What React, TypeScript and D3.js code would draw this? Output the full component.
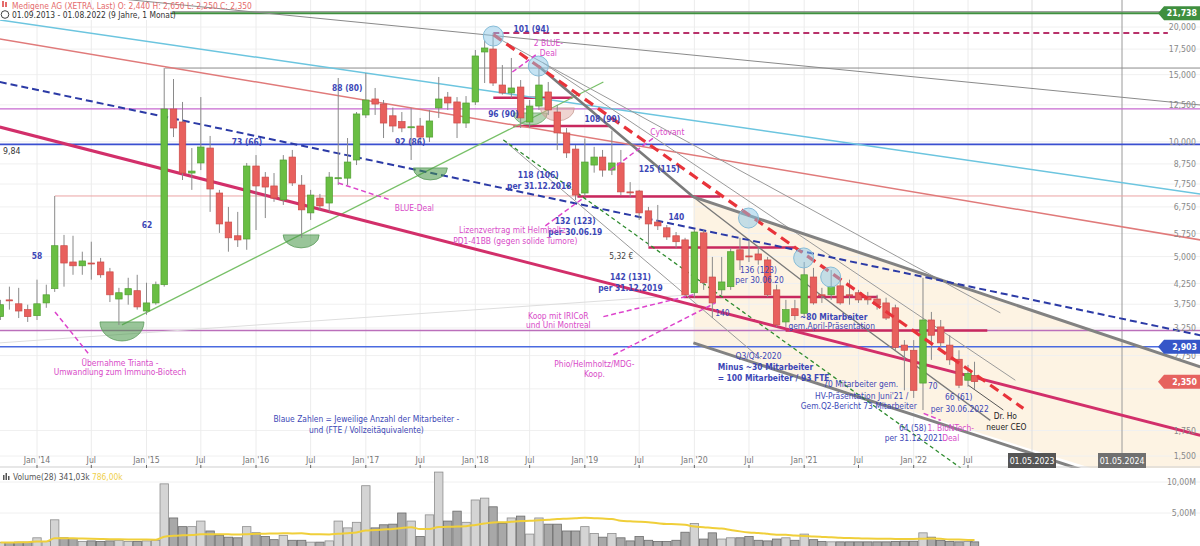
import React from "react";
import * as d3 from "d3";

const W = 1200;
const H = 546;
const FONT = "'DejaVu Sans Condensed','Liberation Sans Narrow','Arial Narrow',sans-serif";
const FS = 8.4;
const AFS = 8.7;

// Monthly OHLC, Sep 2013 .. Aug 2022 (EUR)
const opens = [3.48,3.85,3.76,3.63,3.50,3.78,4.12,5.34,4.84,4.73,4.81,4.84,4.56,3.87,3.97,4.07,3.60,3.78,4.22,12.19,11.27,8.28,8.80,9.63,7.34,6.16,5.67,5.56,8.64,8.08,7.66,7.04,9.12,7.70,6.51,7.12,6.91,8.03,8.03,8.96,11.76,12.95,12.56,11.70,11.30,10.93,11.00,10.29,12.27,13.10,12.72,11.20,12.72,17.20,17.51,14.09,13.43,13.92,11.27,12.41,13.51,11.97,10.55,9.57,7.34,8.69,9.12,8.43,8.80,7.39,7.43,6.59,6.16,5.95,5.67,5.53,4.02,5.77,4.42,4.09,4.17,5.21,5.02,5.08,4.90,4.09,3.37,3.65,3.55,4.42,3.97,3.97,4.19,3.97,4.02,3.92,3.87,3.78,3.67,2.93,2.84,2.33,3.41,3.27,2.93,2.69,2.37,2.44];
const highs = [3.85,4.17,4.14,3.74,4.35,4.22,7.21,5.70,5.67,5.15,5.47,4.96,4.67,4.14,4.40,4.48,4.27,4.30,15.61,14.61,12.72,9.63,13.10,10.36,7.48,6.75,6.55,8.80,9.23,8.33,8.28,9.23,9.52,8.18,7.48,7.30,8.33,14.70,10.23,11.97,15.15,13.84,12.87,12.30,11.97,12.27,11.55,12.12,14.79,13.51,13.10,13.18,17.41,18.50,19.30,15.90,16.59,14.52,12.87,15.80,14.35,12.49,10.87,9.81,10.20,9.70,9.52,10.70,9.52,7.84,7.48,6.75,6.83,6.05,5.80,5.60,5.87,5.87,4.99,4.99,5.27,5.60,5.53,5.27,4.99,4.22,3.85,3.85,4.84,4.67,4.14,4.61,4.35,4.35,4.09,4.04,3.97,3.90,3.74,3.02,3.02,4.40,3.58,3.41,3.11,2.84,2.60,2.65];
const lows = [3.41,3.63,3.45,3.37,3.41,3.67,4.04,4.17,4.48,4.48,4.35,4.40,3.80,3.31,3.74,3.63,3.52,3.74,4.17,10.29,7.94,7.48,8.43,6.55,5.77,5.15,5.30,5.21,5.87,6.31,6.96,6.83,7.66,5.60,6.24,6.63,6.55,7.70,7.70,8.69,11.55,11.76,10.23,10.60,10.60,8.96,9.81,9.99,11.55,12.12,10.23,10.87,12.49,14.26,14.01,13.30,13.03,10.87,10.87,12.12,11.76,9.52,9.07,7.04,7.20,8.30,8.10,8.18,7.25,7.17,6.24,5.32,5.87,5.53,5.27,3.92,3.90,4.09,3.45,3.97,4.09,4.61,4.84,4.76,3.92,3.27,3.27,3.41,3.45,3.74,3.78,3.85,3.74,3.74,3.78,3.74,3.63,3.41,2.84,2.23,2.13,1.98,2.68,2.89,2.60,2.26,2.28,2.25];
const closes = [3.74,3.84,3.60,3.48,3.76,3.97,5.34,4.81,4.73,4.87,4.80,4.48,3.97,4.02,4.12,3.69,3.78,4.22,12.19,10.87,8.28,8.38,9.69,7.52,6.09,5.60,5.53,8.64,7.66,7.61,7.12,8.96,7.80,6.63,7.25,6.79,8.08,8.05,8.85,11.83,12.87,12.56,11.20,11.00,10.87,10.95,10.29,11.34,12.95,12.64,11.20,12.64,16.79,17.62,14.26,13.43,13.84,11.55,12.41,14.09,12.12,10.55,9.35,7.25,8.85,9.12,8.43,8.80,7.39,7.38,6.51,6.09,6.02,5.63,5.47,3.97,5.80,4.27,3.78,4.29,5.15,4.90,5.00,4.90,3.97,3.31,3.63,3.50,4.48,3.78,3.96,4.17,3.78,3.95,3.85,3.85,3.74,3.45,2.89,2.84,2.23,3.41,3.11,2.97,2.68,2.30,2.47,2.35];
// Monthly volume in millions
const volumesM = [0.25,0.25,0.3,0.3,1.0,0.4,3.9,1.0,0.9,0.4,0.5,0.4,0.5,0.6,0.4,0.4,0.5,0.6,9.7,4.2,2.8,2.8,3.7,2.1,1.4,1.1,1.0,2.8,1.8,1.2,0.7,1.4,0.6,0.6,0.3,0.3,0.5,3.7,2.6,3.5,9.4,2.6,3.1,3.2,5.0,3.7,1.2,4.7,11.6,3.7,5.3,3.5,7.1,7.4,6.0,3.3,4.2,4.5,1.6,4.2,3.2,3.2,2.1,2.1,2.8,1.7,1.1,1.7,1.0,0.5,1.2,0.6,0.4,0.4,0.6,1.9,3.3,0.8,1.8,0.8,1.0,1.0,1.2,0.6,0.5,0.8,1.0,0.6,1.6,0.7,0.4,0.35,0.35,0.35,0.35,0.35,0.35,0.35,0.4,0.45,0.45,1.8,1.1,0.6,0.4,0.35,0.4,0.341];

const months = d3.timeMonth.range(new Date(2013, 8, 1), new Date(2022, 8, 1));
const priceTicks = [20, 17.5, 15, 12.5, 10, 8.75, 7.75, 6.75, 5.75, 5, 4.25, 3.75, 3.25, 2.75, 2.25, 1.75, 1.5];
const hiddenTickLabels = [2.25];
const axisDates = d3.timeMonth.every(6)!.range(new Date(2014, 0, 1), new Date(2022, 7, 1));
const futureMarks = [
  { date: new Date(2023, 4, 1), label: "01.05.2023", fill: "#555555", grid: "#dddddd" },
  { date: new Date(2024, 4, 1), label: "01.05.2024", fill: "#707070", grid: "#9a9a9a" },
];
const volTicks = [10, 5];

// decimal year -> Date
const dy = (y: number) => {
  const yr = Math.floor(y);
  const a = new Date(yr, 0, 1).getTime();
  const b = new Date(yr + 1, 0, 1).getTime();
  return new Date(a + (y - yr) * (b - a));
};

// horizontal lines [price, fromYear, toYear]
const hLines = [
  { p: 21.94, a: 2013.66, b: 2025.3, color: "#8c8c8c", w: 1 },
  { p: 21.738, a: 2013.66, b: 2025.3, color: "#3f8f3f", w: 2 },
  { p: 19.29, a: 2018.164, b: 2024.84, color: "#b8306a", w: 1.8, dash: "6,4" },
  { p: 15.61, a: 2015.169, b: 2025.3, color: "#8c8c8c", w: 1 },
  { p: 12.2, a: 2013.66, b: 2025.3, color: "#c76ad0", w: 1.3 },
  { p: 9.84, a: 2013.66, b: 2025.3, color: "#3a4fd0", w: 1.8 },
  { p: 7.21, a: 2014.164, b: 2025.3, color: "#eba3a3", w: 1 },
  { p: 3.2, a: 2013.66, b: 2025.3, color: "#bb6fbb", w: 1.3 },
  { p: 2.903, a: 2013.66, b: 2025.3, color: "#4a6ae0", w: 1.5 },
  { p: 13.05, a: 2018.164, b: 2018.886, color: "#c8285e", w: 2.5 },
  { p: 11.0, a: 2018.347, b: 2019.233, color: "#c8285e", w: 2.5 },
  { p: 7.19, a: 2018.932, b: 2020.237, color: "#c8285e", w: 2.5 },
  { p: 5.28, a: 2019.58, b: 2020.922, color: "#c8285e", w: 2.5 },
  { p: 3.92, a: 2019.9, b: 2021.671, color: "#c8285e", w: 2.5 },
  { p: 3.2, a: 2020.831, b: 2022.747, color: "#c8285e", w: 2.5 },
];

// trend lines as [year, price] vertices
const trendLines = [
  { pts: [[2013.66, 25.46], [2025.2, 12.49]], color: "#8a8a8a", w: 1 },
  { pts: [[2013.66, 20.86], [2025.2, 7.3]], color: "#6cc5df", w: 1.5 },
  { pts: [[2013.66, 18.6], [2025.2, 5.53]], color: "#e07a7a", w: 1.5 },
  { pts: [[2013.66, 2.97], [2019.963, 3.97]], color: "#dedede", w: 1 },
  { pts: [[2014.776, 3.31], [2019.169, 14.35]], color: "#78c068", w: 1.3 },
  { pts: [[2018.201, 18.73], [2022.917, 3.56]], color: "#9a9a9a", w: 1 },
  { pts: [[2018.621, 16.09], [2023.112, 2.37]], color: "#9a9a9a", w: 1 },
  { pts: [[2018.256, 10.11], [2020.603, 2.7]], color: "#9a9a9a", w: 1 },
  { pts: [[2018.575, 15.8], [2019.991, 7.17], [2021.361, 3.56], [2022.786, 1.86]], color: "#7a7a7a", w: 1.3 },
  { pts: [[2018.575, 15.8], [2019.991, 7.17]], color: "#7a7a7a", w: 2.6 },
  { pts: [[2019.991, 7.17], [2025.2, 2.57]], color: "#828282", w: 3 },
  { pts: [[2019.991, 2.97], [2024.09, 1.33]], color: "#828282", w: 3 },
  { pts: [[2018.256, 10.11], [2022.429, 1.395]], color: "#2e8b2e", w: 1.3, dash: "4,3" },
  { pts: [[2013.66, 10.93], [2025.2, 1.7]], color: "#d22f6a", w: 3 },
  { pts: [[2013.66, 14.35], [2025.2, 3.11]], color: "#2b3aa6", w: 2, dash: "7,4" },
];
const redDash = [[2018.164, 19.1], [2023.216, 2.0]];

const zone = [[2019.991, 7.17], [2025.3, 2.55], [2025.3, 1.38], [2024.05, 1.38], [2019.991, 2.97]];

const circles = [[2018.164, 18.94], [2018.575, 15.8], [2020.493, 6.31], [2020.995, 4.96], [2021.242, 4.42]];
const bowls = [
  { c: [2014.776, 3.37], rx: 22, ry: 19, fill: "rgba(70,150,70,0.55)", stroke: "#5a9a5a" },
  { c: [2016.411, 5.7], rx: 18, ry: 13, fill: "rgba(70,150,70,0.55)", stroke: "#5a9a5a" },
  { c: [2017.589, 8.54], rx: 17, ry: 12, fill: "rgba(70,150,70,0.55)", stroke: "#5a9a5a" },
  { c: [2018.502, 11.9], rx: 17, ry: 12, fill: "rgba(90,160,90,0.45)", stroke: "#6aa86a" },
  { c: [2018.749, 12.27], rx: 17, ry: 13, fill: "rgba(220,160,150,0.45)", stroke: "#c8a098" },
];

const pinkDash = [
  [[2014.164, 3.58], [2014.484, 2.75]],
  [[2016.749, 7.8], [2017.224, 7.04]],
  [[2018.338, 15.24], [2018.575, 17.09]],
  [[2019.233, 8.43], [2019.626, 10.23]],
  [[2018.639, 6.02], [2018.986, 7.12]],
  [[2019.169, 3.48], [2019.991, 3.97]],
  [[2019.26, 2.76], [2020.192, 3.78]],
  [[2022.091, 1.94], [2022.247, 1.86]],
];
const pointer = [[2022.5, 2.3], [2022.956, 1.98]];

const BLUE = "#3c47b6";
const PINK = "#d84ac8";
const notes = [
  { t: "58", y: 2014.0, p: 4.94, c: BLUE, b: true },
  { t: "62", y: 2015.005, p: 5.96, c: BLUE, b: true },
  { t: "73 (66)", y: 2015.918, p: 9.78, c: BLUE, b: true },
  { t: "88 (80)", y: 2016.831, p: 13.63, c: BLUE, b: true },
  { t: "92 (86)", y: 2017.406, p: 9.78, c: BLUE, b: true },
  { t: "96 (90)", y: 2018.256, p: 11.65, c: BLUE, b: true },
  { t: "101 (94)", y: 2018.511, p: 19.46, c: BLUE, b: true },
  { t: "108 (99)", y: 2019.16, p: 11.3, c: BLUE, b: true },
  { t: "118 (106)", y: 2018.575, p: 8.06, c: BLUE, b: true },
  { t: "per 31.12.2018", y: 2018.584, p: 7.54, c: BLUE, b: true },
  { t: "125 (115)", y: 2019.68, p: 8.31, c: BLUE, b: true },
  { t: "132 (123)", y: 2018.913, p: 6.07, c: BLUE, b: true },
  { t: "per 30.06.19", y: 2018.913, p: 5.68, c: BLUE, b: true },
  { t: "140", y: 2019.836, p: 6.22, c: BLUE, b: true },
  { t: "5,32 €", y: 2019.333, p: 4.94, c: "#444", b: false },
  { t: "142 (131)", y: 2019.416, p: 4.35, c: BLUE, b: true },
  { t: "per 31.12.2019", y: 2019.416, p: 4.07, c: BLUE, b: true },
  { t: "136 (123)", y: 2020.584, p: 4.54, c: BLUE, b: false },
  { t: "per 30.06.20", y: 2020.593, p: 4.27, c: BLUE, b: false },
  { t: "140", y: 2020.256, p: 3.5, c: BLUE, b: false },
  { t: "~80 Mitarbeiter", y: 2021.269, p: 3.42, c: BLUE, b: true },
  { t: "gem.April-Präsentation", y: 2021.251, p: 3.22, c: BLUE, b: false },
  { t: "Q3/Q4-2020", y: 2020.584, p: 2.69, c: BLUE, b: false },
  { t: "Minus ~30 Mitarbeiter", y: 2020.648, p: 2.52, c: BLUE, b: true },
  { t: "= 100 Mitarbeiter / 93 FTE", y: 2020.721, p: 2.36, c: BLUE, b: true },
  { t: "70 Mitarbeiter gem.", y: 2021.516, p: 2.27, c: BLUE, b: false },
  { t: "HV-Präsentation Juni'21 /", y: 2021.525, p: 2.12, c: BLUE, b: false },
  { t: "Gem.Q2-Bericht 73 Mitarbeiter", y: 2021.498, p: 1.99, c: BLUE, b: false },
  { t: "70", y: 2022.174, p: 2.25, c: BLUE, b: false },
  { t: "66 (61)", y: 2022.411, p: 2.1, c: BLUE, b: false },
  { t: "per 30.06.2022", y: 2022.42, p: 1.96, c: BLUE, b: false },
  { t: "64 (58)", y: 2021.991, p: 1.74, c: BLUE, b: false },
  { t: "per 31.12.2021", y: 2022.0, p: 1.64, c: BLUE, b: false },
  { t: "Blaue Zahlen = Jeweilige Anzahl der Mitarbeiter -", y: 2017.005, p: 1.84, c: BLUE, b: false },
  { t: "und (FTE / Vollzeitäquivalente)", y: 2017.005, p: 1.72, c: BLUE, b: false },
  { t: "Übernahme Trianta -", y: 2014.758, p: 2.59, c: PINK, b: false },
  { t: "Umwandlung zum Immuno-Biotech", y: 2014.758, p: 2.44, c: PINK, b: false },
  { t: "BLUE-Deal", y: 2017.443, p: 6.6, c: PINK, b: false },
  { t: "2 BLUE-", y: 2018.667, p: 17.78, c: PINK, b: false },
  { t: "Deal", y: 2018.667, p: 16.74, c: PINK, b: false },
  { t: "Cytovant", y: 2019.753, p: 10.39, c: PINK, b: false },
  { t: "Lizenzvertrag mit Helmholtz", y: 2018.338, p: 5.75, c: PINK, b: false },
  { t: "PD1-41BB (gegen solide Tumore)", y: 2018.365, p: 5.41, c: PINK, b: false },
  { t: "Koop mit IRICoR", y: 2018.758, p: 3.44, c: PINK, b: false },
  { t: "und Uni Montreal", y: 2018.758, p: 3.24, c: PINK, b: false },
  { t: "Phio/Helmholtz/MDG-", y: 2019.087, p: 2.57, c: PINK, b: false },
  { t: "Koop.", y: 2019.087, p: 2.41, c: PINK, b: false },
  { t: "1. BioNTech-", y: 2022.338, p: 1.74, c: PINK, b: false },
  { t: "Deal", y: 2022.338, p: 1.64, c: PINK, b: false },
  { t: "Dr. Ho", y: 2022.982, p: 1.87, c: "#222", b: false },
  { t: "neuer CEO", y: 2022.995, p: 1.75, c: "#222", b: false },
];

const tags = [
  { p: 21.738, text: "21,738", fill: "#3f8f3f" },
  { p: 2.903, text: "2,903", fill: "#3556c8" },
  { p: 2.35, text: "2,350", fill: "#e6625f" },
];

export default function App() {
  const x = d3
    .scaleTime()
    .domain([new Date(2014, 0, 1), new Date(2022, 6, 1), new Date(2023, 4, 1), new Date(2024, 4, 1)])
    .range([37, 968, 1032, 1122]);
  const y = d3.scaleLog().domain([1.5, 20]).range([456, 27]);
  const vy = d3.scaleLinear().domain([0, 10]).range([544, 482]);
  const X = (yr: number) => x(dy(yr));
  const pt = (d: number[]) => [X(d[0]), y(d[1])] as [number, number];
  const line = d3.line<[number, number]>();

  const sma = volumesM.map((_, i) => {
    const s = volumesM.slice(Math.max(0, i - 27), i + 1);
    return d3.mean(s) as number;
  });
  const smaPath = d3
    .line<number>()
    .x((_, i) => x(months[i]))
    .y((v) => vy(v))
    .curve(d3.curveMonotoneX)(sma);

  const bw = 6.5;
  const vbw = 8.4;

  return (
    <svg width={W} height={H} style={{ display: "block", position: "absolute", left: 0, top: 0 }} fontFamily={FONT}>
      <defs>
        <clipPath id="pc">
          <rect x={0} y={0} width={W} height={468} />
        </clipPath>
        <clipPath id="vc">
          <rect x={0} y={469} width={W} height={H - 469} />
        </clipPath>
      </defs>
      <rect x={0} y={0} width={W} height={H} fill="#fff" />

      <g clipPath="url(#pc)">
        <path d={line(zone.map(pt))! + "Z"} fill="#fdf1de" opacity={0.85} />
        {priceTicks.map((t) => (
          <line key={"hg" + t} x1={0} x2={W} y1={y(t)} y2={y(t)} stroke="#f0f0f0" />
        ))}
        {axisDates.map((d, i) => (
          <line key={"vg" + i} x1={x(d)} x2={x(d)} y1={0} y2={467} stroke="#ececec" />
        ))}
        {futureMarks.map((f) => (
          <line key={"fg" + f.label} x1={x(f.date)} x2={x(f.date)} y1={0} y2={467} stroke={f.grid} />
        ))}
        {hLines.map((l, i) => (
          <line key={"hl" + i} x1={X(l.a)} x2={X(l.b)} y1={y(l.p)} y2={y(l.p)} stroke={l.color} strokeWidth={l.w} strokeDasharray={l.dash} />
        ))}
        {trendLines.map((l, i) => (
          <path key={"tl" + i} d={line(l.pts.map(pt))!} fill="none" stroke={l.color} strokeWidth={l.w} strokeDasharray={l.dash} />
        ))}
        {bowls.map((b, i) => {
          const [cx, cy] = pt(b.c);
          return (
            <path key={"bw" + i} d={`M${cx - b.rx},${cy} A${b.rx},${b.ry} 0 0 0 ${cx + b.rx},${cy} Z`} fill={b.fill} stroke={b.stroke} strokeWidth={0.8} />
          );
        })}
        {months.map((m, i) => {
          const cx = x(m);
          const up = closes[i] >= opens[i];
          const top = y(Math.max(opens[i], closes[i]));
          const bot = y(Math.min(opens[i], closes[i]));
          return (
            <g key={"c" + i}>
              <line x1={cx} x2={cx} y1={y(highs[i])} y2={y(lows[i])} stroke="#8a8a8a" strokeWidth={1} />
              <rect x={cx - bw / 2} y={top} width={bw} height={Math.max(1, bot - top)} fill={up ? "#69be43" : "#e8605d"} stroke={up ? "#51a032" : "#cc4b48"} strokeWidth={0.7} />
            </g>
          );
        })}
        <path d={line(redDash.map(pt))!} fill="none" stroke="#e8333a" strokeWidth={3.2} strokeDasharray="10,6" />
        {circles.map((c, i) => {
          const [cx, cy] = pt(c);
          return <circle key={"ci" + i} cx={cx} cy={cy} r={10} fill="rgba(140,200,232,0.5)" stroke="#86bcd8" strokeWidth={1} />;
        })}
        {pinkDash.map((l, i) => (
          <path key={"pd" + i} d={line(l.map(pt))!} fill="none" stroke="#dd44cc" strokeWidth={1.5} strokeDasharray="5,3" />
        ))}
        <path d={line(pointer.map(pt))!} fill="none" stroke="#555" strokeWidth={1} />
      </g>

      {notes.map((n, i) => (
        <text key={"n" + i} x={X(n.y)} y={y(n.p)} fill={n.c} fontSize={FS} fontWeight={n.b ? 700 : 400} textAnchor="middle">
          {n.t}
        </text>
      ))}

      {/* header */}
      <rect x={0} y={9} width={172} height={11} fill="#fff" />
      <g>
        <rect x={2} y={1} width={2} height={6} fill="#e56b6b" />
        <rect x={5} y={2} width={2} height={5} fill="#e56b6b" />
        <text x={12} y={8.5} fontSize={FS} fill="#e56b6b">
          Medigene AG (XETRA, Last)  O: 2,440  H: 2,650  L: 2,250  C: 2,350
        </text>
        <circle cx={5} cy={14.5} r={3.8} fill="none" stroke="#444" strokeWidth={1} />
        <text x={12} y={18} fontSize={FS} fill="#333">
          01.09.2013 - 01.08.2022  (9 Jahre, 1 Monat)
        </text>
      </g>
      <text x={3} y={y(9.84) + 10} fontSize={AFS} fill="#333">
        9,84
      </text>

      {/* right price axis */}
      {priceTicks
        .filter((t) => !hiddenTickLabels.includes(t))
        .map((t) => (
          <text key={"pl" + t} x={1196} y={y(t) + 3.2} fontSize={AFS} fill="#8a8a8a" textAnchor="end">
            {t.toFixed(3).replace(".", ",")}
          </text>
        ))}
      {tags.map((g) => {
        const ty = y(g.p);
        return (
          <g key={"tag" + g.text}>
            <path d={`M1158,${ty} L1164,${ty - 7} L1200,${ty - 7} L1200,${ty + 7} L1164,${ty + 7} Z`} fill={g.fill} />
            <text x={1197} y={ty + 3.3} fontSize={AFS} fontWeight={700} fill="#fff" textAnchor="end">
              {g.text}
            </text>
          </g>
        );
      })}

      {/* x axis */}
      <line x1={0} x2={W} y1={467} y2={467} stroke="#cfcfcf" />
      {axisDates.map((d, i) => (
        <g key={"xt" + i}>
          <line x1={x(d)} x2={x(d)} y1={465} y2={468} stroke="#666" />
          <text x={x(d)} y={463} fontSize={AFS} fill="#777" textAnchor="middle">
            {d.getMonth() === 0 ? `Jan '${String(d.getFullYear()).slice(2)}` : "Jul"}
          </text>
        </g>
      ))}
      {futureMarks.map((f) => (
        <g key={"fm" + f.label}>
          <rect x={x(f.date) - 24} y={453} width={48} height={15} fill={f.fill} />
          <text x={x(f.date)} y={463.5} fontSize={AFS} fill="#fff" textAnchor="middle">
            {f.label}
          </text>
        </g>
      ))}

      {/* volume panel */}
      {volTicks.map((t) => (
        <g key={"vt" + t}>
          <line x1={0} x2={W} y1={vy(t)} y2={vy(t)} stroke="#f0f0f0" />
          <text x={1196} y={vy(t) + 3.2} fontSize={AFS} fill="#8a8a8a" textAnchor="end">
            {t.toFixed(2).replace(".", ",") + "M"}
          </text>
        </g>
      ))}
      <g clipPath="url(#vc)">
        {months.map((m, i) => {
          const up = closes[i] >= opens[i];
          const top = vy(volumesM[i]);
          return (
            <rect key={"v" + i} x={x(m) - vbw / 2} y={top} width={vbw} height={H + 4 - top} fill={up ? "#d4d4d4" : "#a8a8a8"} stroke={up ? "#8d8d8d" : "#6c6c6c"} strokeWidth={0.8} />
          );
        })}
        <path d={smaPath!} fill="none" stroke="#f0cf3a" strokeWidth={2} />
      </g>
      <g>
        <rect x={3} y={475} width={1.5} height={5} fill="#555" />
        <rect x={5.5} y={473} width={1.5} height={7} fill="#555" />
        <rect x={8} y={476} width={1.5} height={4} fill="#555" />
        <text x={13} y={480} fontSize={FS} fill="#555">
          Volume(28) 341,03k <tspan fill="#efd04a">786,00k</tspan>
        </text>
      </g>
    </svg>
  );
}
